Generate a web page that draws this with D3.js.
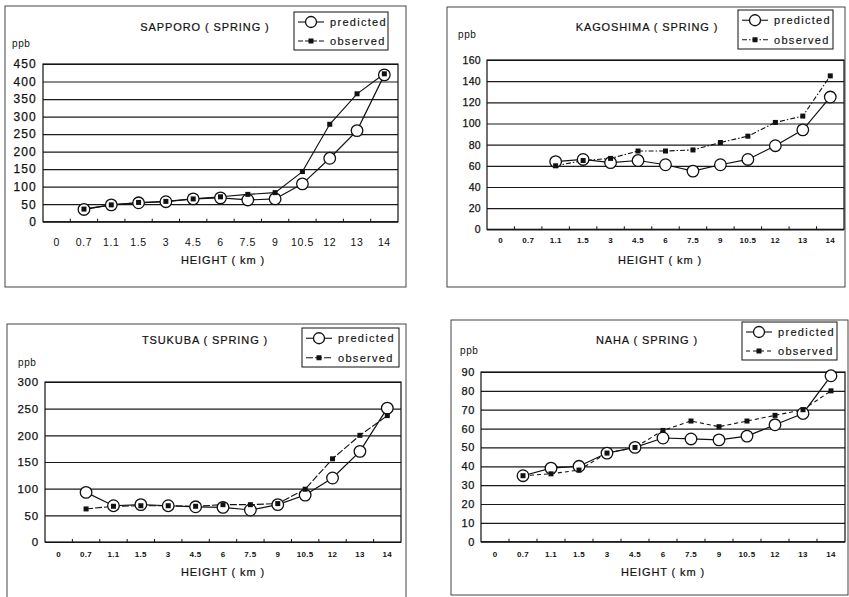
<!DOCTYPE html>
<html>
<head>
<meta charset="utf-8">
<script src="https://cdn.jsdelivr.net/npm/d3@7/dist/d3.min.js"></script>
<style>
  html, body { margin: 0; padding: 0; background: #fff; }
  svg { display: block; }
  text { font-family: "Liberation Sans", Arial, sans-serif; fill: #111; }
</style>
</head>
<body>
<svg id="chart" width="849" height="597"></svg>
<script>
// ---------------- DATA ----------------
const categories = ["0", "0.7", "1.1", "1.5", "3", "4.5", "6", "7.5", "9", "10.5", "12", "13", "14"];

const sapporoPredicted   = [null, 35, 48, 54, 57, 65, 68, 62, 65, 108, 181, 260, 419];
const sapporoObserved    = [null, 36, 48, 55, 58, 65, 71, 78, 83, 143, 278, 365, 422];
const sapporoTicks       = [0, 50, 100, 150, 200, 250, 300, 350, 400, 450];

const kagoshimaPredicted = [null, null, 64, 66, 63, 65, 61, 55, 61, 66, 79, 94, 125];
const kagoshimaObserved  = [null, null, 60, 65, 67, 74, 74, 75, 82, 88, 101, 107, 145];
const kagoshimaTicks     = [0, 20, 40, 60, 80, 100, 120, 140, 160];

const tsukubaPredicted   = [null, 93, 68, 70, 68, 66, 65, 60, 70, 88, 120, 170, 251];
const tsukubaObserved    = [null, 62, 67, 68, 68, 67, 70, 70, 72, 99, 156, 200, 237];
const tsukubaTicks       = [0, 50, 100, 150, 200, 250, 300];

const nahaPredicted      = [null, 35, 39, 40, 47, 50, 55, 54.5, 54, 56, 62, 68, 88];
const nahaObserved       = [null, 35, 36, 38, 47, 50, 59, 64, 61, 64, 67, 70, 80];
const nahaTicks          = [0, 10, 20, 30, 40, 50, 60, 70, 80, 90];

const titles = ["SAPPORO ( SPRING )", "KAGOSHIMA ( SPRING )", "TSUKUBA ( SPRING )", "NAHA ( SPRING )"];
const seriesNames = ["predicted", "observed"];
const yUnit = "ppb";
const xTitle = "HEIGHT ( km )";

// ---------------- LAYOUT ----------------
const panels = [
  { title: titles[0], pred: sapporoPredicted, obs: sapporoObserved, ticks: sapporoTicks,
    frame: [5, 6, 406, 287], plot: [43, 64, 398, 221.7],
    titleXY: [205, 31], ppbXY: [12, 47], legend: [294, 12, 388, 50], xlabXY: [223, 264],
    xtickY: 242, xtickSize: 10.5, xtickWeight: "normal", xtickLS: 0.6,
    ytickSize: 12, ytickLS: 1.2, obsDash: null },
  { title: titles[1], pred: kagoshimaPredicted, obs: kagoshimaObserved, ticks: kagoshimaTicks,
    frame: [447, 7, 845, 287], plot: [487, 60, 844, 229.3],
    titleXY: [647, 31], ppbXY: [458, 38], legend: [738, 10, 833, 49], xlabXY: [660, 264],
    xtickY: 240, xtickSize: 8, xtickWeight: "bold", xtickLS: 0.3,
    ytickSize: 10.5, ytickLS: 0.3, obsDash: "5,2,1.5,2" },
  { title: titles[2], pred: tsukubaPredicted, obs: tsukubaObserved, ticks: tsukubaTicks,
    frame: [7, 324, 406, 605], plot: [45, 382, 401, 542],
    titleXY: [205, 344], ppbXY: [18, 366], legend: [302, 328, 399, 367], xlabXY: [223, 576],
    xtickY: 554, xtickSize: 8, xtickWeight: "bold", xtickLS: 0.3,
    ytickSize: 11.5, ytickLS: 0.8, obsDash: "7,2" },
  { title: titles[3], pred: nahaPredicted, obs: nahaObserved, ticks: nahaTicks,
    frame: [451, 320, 848, 595], plot: [481, 372, 845, 541.7],
    titleXY: [647, 344], ppbXY: [460, 354], legend: [742, 322, 837, 360], xlabXY: [663, 576],
    xtickY: 554, xtickSize: 8, xtickWeight: "bold", xtickLS: 0.3,
    ytickSize: 11, ytickLS: 0.6, obsDash: "4,3" }
];

const svg = d3.select("#chart");

panels.forEach(p => {
  const g = svg.append("g");
  const [fx0, fy0, fx1, fy1] = p.frame;
  const [px0, py0, px1, py1] = p.plot;

  // outer frame
  g.append("rect").attr("x", fx0).attr("y", fy0).attr("width", fx1 - fx0).attr("height", fy1 - fy0)
    .attr("fill", "none").attr("stroke", "#444").attr("stroke-width", 1);

  const x = d3.scaleBand().domain(categories).range([px0, px1]).paddingInner(0).paddingOuter(0);
  const y = d3.scaleLinear().domain([0, d3.max(p.ticks)]).range([py1, py0]);
  const cx = c => x(c) + x.bandwidth() / 2;

  // grid lines
  g.append("g").attr("transform", `translate(${px0},0)`)
    .call(d3.axisLeft(y).tickValues(p.ticks).tickSize(-(px1 - px0)).tickFormat(""))
    .call(a => a.select(".domain").remove())
    .call(a => a.selectAll("line").attr("stroke", "#1a1a1a").attr("stroke-width", 1.2));

  // plot border
  g.append("rect").attr("x", px0).attr("y", py0).attr("width", px1 - px0).attr("height", py1 - py0)
    .attr("fill", "none").attr("stroke", "#111").attr("stroke-width", 1.2);

  // y tick labels
  g.append("g").attr("transform", `translate(${px0},0)`)
    .call(d3.axisLeft(y).tickValues(p.ticks).tickSize(0).tickPadding(6))
    .call(a => a.select(".domain").remove())
    .call(a => a.selectAll("text").attr("font-size", p.ytickSize).attr("letter-spacing", p.ytickLS)
      .attr("font-family", "Liberation Sans, Arial, sans-serif").attr("fill", "#111")
      .attr("stroke", "#111").attr("stroke-width", 0.25));

  // x axis: small inward ticks at band boundaries + labels
  const xa = g.append("g").attr("transform", `translate(0,${py1})`)
    .call(d3.axisBottom(x).tickSize(0).tickPadding(0))
    .call(a => a.select(".domain").remove());
  xa.selectAll("text")
    .attr("y", p.xtickY - py1).attr("dy", "0.35em")
    .attr("font-size", p.xtickSize).attr("font-weight", p.xtickWeight)
    .attr("letter-spacing", p.xtickLS)
    .attr("font-family", "Liberation Sans, Arial, sans-serif").attr("fill", "#111");
  g.append("g").selectAll("line").data(categories.slice(1)).join("line")
    .attr("x1", c => x(c)).attr("x2", c => x(c))
    .attr("y1", py1).attr("y2", py1 - 3)
    .attr("stroke", "#111").attr("stroke-width", 1);

  // titles
  g.append("text").attr("x", p.titleXY[0]).attr("y", p.titleXY[1]).attr("text-anchor", "middle")
    .attr("font-size", 11).attr("letter-spacing", 0.9)
    .attr("stroke", "#111").attr("stroke-width", 0.2).text(p.title);
  g.append("text").attr("x", p.ppbXY[0]).attr("y", p.ppbXY[1])
    .attr("font-size", 10).attr("letter-spacing", 0.6).text(yUnit);
  g.append("text").attr("x", p.xlabXY[0]).attr("y", p.xlabXY[1]).attr("text-anchor", "middle")
    .attr("font-size", 11).attr("letter-spacing", 0.9)
    .attr("stroke", "#111").attr("stroke-width", 0.2).text(xTitle);

  // series
  const predPts = categories.map((c, i) => ({ c, v: p.pred[i] })).filter(d => d.v != null);
  const obsPts = categories.map((c, i) => ({ c, v: p.obs[i] })).filter(d => d.v != null);
  const line = d3.line().x(d => cx(d.c)).y(d => y(d.v));

  g.append("path").datum(obsPts).attr("d", line).attr("fill", "none")
    .attr("stroke", "#111").attr("stroke-width", 1.1)
    .attr("stroke-dasharray", p.obsDash);
  g.append("path").datum(predPts).attr("d", line).attr("fill", "none")
    .attr("stroke", "#111").attr("stroke-width", 1.2);

  g.append("g").selectAll("circle").data(predPts).join("circle")
    .attr("cx", d => cx(d.c)).attr("cy", d => y(d.v)).attr("r", 5.8)
    .attr("fill", "#fff").attr("stroke", "#111").attr("stroke-width", 1.3);
  g.append("g").selectAll("rect").data(obsPts).join("rect")
    .attr("x", d => cx(d.c) - 2.5).attr("y", d => y(d.v) - 2.5)
    .attr("width", 5).attr("height", 5).attr("fill", "#111");

  // legend
  const [lx0, ly0, lx1, ly1] = p.legend;
  const lg = g.append("g");
  lg.append("rect").attr("x", lx0).attr("y", ly0).attr("width", lx1 - lx0).attr("height", ly1 - ly0)
    .attr("fill", "#fff").attr("stroke", "#111").attr("stroke-width", 1);
  const rowH = (ly1 - ly0) / 2;
  seriesNames.forEach((name, i) => {
    const ry = ly0 + rowH * (i + 0.5) + 0.5;
    const sx0 = lx0 + 4, sx1 = lx0 + 30, smid = (sx0 + sx1) / 2;
    lg.append("line").attr("x1", sx0).attr("x2", sx1).attr("y1", ry).attr("y2", ry)
      .attr("stroke", "#111").attr("stroke-width", 1.1)
      .attr("stroke-dasharray", i === 1 ? (p.obsDash || "5,2") : null);
    if (i === 0) {
      lg.append("circle").attr("cx", smid).attr("cy", ry).attr("r", 5.5)
        .attr("fill", "#fff").attr("stroke", "#111").attr("stroke-width", 1.3);
    } else {
      lg.append("rect").attr("x", smid - 2.5).attr("y", ry - 2.5).attr("width", 5).attr("height", 5)
        .attr("fill", "#111");
    }
    lg.append("text").attr("x", lx0 + 36).attr("y", ry).attr("dy", "0.35em")
      .attr("font-size", 11).attr("letter-spacing", 1.3)
      .attr("stroke", "#111").attr("stroke-width", 0.15).text(name);
  });
});
</script>
</body>
</html>
